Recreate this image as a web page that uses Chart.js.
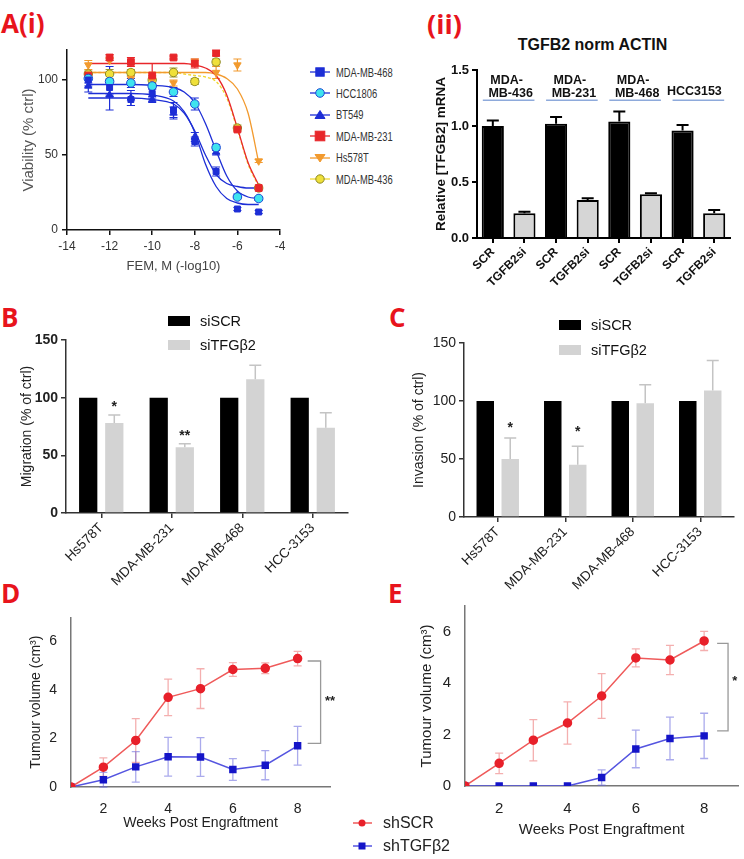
<!DOCTYPE html>
<html><head><meta charset="utf-8">
<script src="https://cdn.jsdelivr.net/npm/chart.js@4.4.0/dist/chart.umd.min.js"></script>
<style>
body{margin:0;width:744px;height:859px;position:relative;background:#fff;font-family:"Liberation Sans",Arial,sans-serif;overflow:hidden}
canvas{position:absolute}
.plab{position:absolute;color:#e8141c;font-weight:bold;font-family:"Open Sans","Liberation Sans",sans-serif;line-height:1}
.row{position:absolute;display:flex;align-items:center;white-space:nowrap}
.legA{font-size:13px;color:#333;display:inline-block;transform:scaleX(0.72);transform-origin:left center;margin-left:4px}
</style></head><body>

<div class="plab" style="left:1px;top:10px;font-size:26px">A(i)</div>
<div class="plab" style="left:427px;top:10px;font-size:27px">(ii)</div>
<div class="plab" style="left:1px;top:304px;font-size:26px">B</div>
<div class="plab" style="left:389px;top:304px;font-size:26px">C</div>
<div class="plab" style="left:1px;top:580px;font-size:26px">D</div>
<div class="plab" style="left:388px;top:580px;font-size:26px">E</div>
<div style="position:absolute;left:500px;top:36px;width:185px;text-align:center;font-weight:bold;font-size:16px;color:#111">TGFB2 norm ACTIN</div>

<canvas id="cA1" width="292" height="240" style="left:0;top:38px"></canvas>
<canvas id="cA2" width="324" height="258" style="left:420px;top:55px"></canvas>
<canvas id="cB" width="360" height="262" style="left:0;top:328px"></canvas>
<canvas id="cC" width="354" height="259" style="left:390px;top:331px"></canvas>
<canvas id="cD" width="345" height="232" style="left:0;top:603px"></canvas>
<canvas id="cE" width="351" height="249" style="left:393px;top:591px"></canvas>

<script>
// ---------- DATA ----------
// A(i) dose response
const doseX = [-13,-12,-11,-10,-9,-8,-7,-6,-5];
const cellLines = ['MDA-MB-468','HCC1806','BT549','MDA-MB-231','Hs578T','MDA-MB-436'];
const via468  = [100,95,87,91,80,59,39,14,12];
const err468  = [4,5,4,3,5,3,3,1,1];
const via1806 = [101,99,98,96,92,84,55,22,21];
const err1806 = [3,10,3,2,3,4,2,1,1];
const viaBT549= [96,90,88,87,78,62,52,23,21];
const errBT549= [4,10,5,2,4,3,2,1,1];
const via231  = [103,115,112,103,115,111,118,67,28];
const err231  = [2,2,3,8,1,3,2,1,1];
const viaHs578= [110,113,101,100,98,112,105,110,46];
const errHs578= [3,2,4,3,2,2,4,4,1];
const via436  = [104,104,105,100,105,99,112,68,28];
const err436  = [2,3,2,2,3,2,2,2,1];
// fitted curves
const fitX     = [-13,-12,-11,-10,-9,-8.5,-8,-7.5,-7,-6.5,-6,-5.5,-5];
const fit468   = [91,91,91,90,86,79,65,44,29,21,18,17,17];
const fit1806  = [97,97,97,96.5,95,92,85,71,53,36,26,22,21];
const fitBT549 = [88,88,88,87,84,78,66,50,37,31,29,28,28];
const fit231   = [111,111,111,111,111,111,110,108,103,90,68,45,30];
const fitHs578 = [105,105,105,105,105,105,105,105,104,101,94,78,45];
const fit436   = [105,105,105,105,105,104,103,102,99,88,67,44,29];

// A(ii) qPCR
const qGroups = ['MDA-\nMB-436','MDA-\nMB-231','MDA-\nMB-468','HCC3153'];
const qLabels = ['SCR','TGFB2si','SCR','TGFB2si','SCR','TGFB2si','SCR','TGFB2si'];
const qSCR    = [1.00,1.02,1.04,0.96];
const qSCRerr = [0.05,0.06,0.09,0.05];
const qSI     = [0.22,0.34,0.39,0.22];
const qSIerr  = [0.015,0.015,0.01,0.03];

// B / C migration & invasion
const mCells = ['Hs578T','MDA-MB-231','MDA-MB-468','HCC-3153'];
const migSCR = [100,100,100,100];
const migSI  = [78,57,116,74];
const migSIerr = [7,3,12,13];
const invSCR = [100,100,100,100];
const invSI  = [50,45,98,109];
const invSIerr = [18,16,16,26];

// D / E xenografts
const weeks = [1,2,3,4,5,6,7,8];
const dSCR    = [0,0.82,1.92,3.70,4.06,4.85,4.90,5.30];
const dSCRerr = [0,0.38,0.90,0.75,0.82,0.28,0.22,0.30];
const dTGF    = [0,0.30,0.83,1.25,1.24,0.72,0.90,1.70];
const dTGFerr = [0,0.30,0.63,0.80,0.80,0.45,0.60,0.80];
const eSCR    = [0,0.88,1.78,2.45,3.50,4.98,4.90,5.64];
const eSCRerr = [0,0.40,0.80,0.82,0.87,0.35,0.57,0.37];
const eTGF    = [0,0,0,0,0.33,1.44,1.85,1.95];
const eTGFerr = [0,0,0,0,0.30,0.73,0.83,0.88];
const xenoSeries = ['shSCR','shTGF\u03b22'];

// ---------- HELPERS ----------
const F = '"Liberation Sans", Arial, sans-serif';
function errDraw(chart, behind){
  const ctx = chart.ctx, ys = chart.scales.y;
  chart.data.datasets.forEach((ds,i)=>{
    if(!ds.err || (!!ds.errBehind)!==behind) return;
    const meta = chart.getDatasetMeta(i);
    if(meta.hidden) return;
    meta.data.forEach((el,j)=>{
      const e = ds.err[j]; if(!e) return;
      const raw = ds.data[j]; const v = (typeof raw==='object')? raw.y : raw;
      const x = el.x, yt = ys.getPixelForValue(v+e);
      const yb = ds.errBoth ? ys.getPixelForValue(v-e) : ys.getPixelForValue(v);
      const cw = ds.errCap||4;
      ctx.save(); ctx.strokeStyle = ds.errColor; ctx.lineWidth = ds.errWidth||1;
      ctx.beginPath(); ctx.moveTo(x,yb); ctx.lineTo(x,yt);
      ctx.moveTo(x-cw,yt); ctx.lineTo(x+cw,yt);
      if(ds.errBoth){ ctx.moveTo(x-cw,yb); ctx.lineTo(x+cw,yb); }
      ctx.stroke(); ctx.restore();
    });
  });
}
const errPlugin = {id:'errbars',
  beforeDatasetsDraw(c){errDraw(c,true);},
  afterDatasetsDraw(c){errDraw(c,false);} };
Chart.register(errPlugin);

function base(pad, scales, extra){
  return Object.assign({responsive:false, animation:false, devicePixelRatio:1,
    layout:{padding:pad},
    plugins:{legend:{display:false}, tooltip:{enabled:false}},
    scales}, extra||{});
}
const setTicks = vals => s => { s.ticks = vals.map(v=>({value:v})); };
const wFix = w => s => { s.width = w; };
const hFix = h => s => { s.height = h; };

// ---------- A(i) ----------
const blue='#1d2ed6', cyan='#3fe3ee', red='#e8262a', orange='#f29a2e', yellow='#efe03a', olive='#8f8a25';
const aiVals = [via468, via1806, viaBT549, via231, viaHs578, via436];
const aiErrs = [err468, err1806, errBT549, err231, errHs578, err436];
const aiFits = [fit468, fit1806, fitBT549, fit231, fitHs578, fit436];
const aiSty = [
  {line:blue, bd:blue, bg:blue, ps:'rect', r:4.2, rot:0},
  {line:blue, bd:'#1d4ad6', bg:cyan, ps:'circle', r:4.3, rot:0},
  {line:blue, bd:blue, bg:blue, ps:'triangle', r:4.3, rot:0},
  {line:red, bd:red, bg:red, ps:'rect', r:4.8, rot:0},
  {line:orange, bd:orange, bg:orange, ps:'triangle', r:4.3, rot:180},
  {line:'#f0d830', bd:olive, bg:yellow, ps:'circle', r:4.2, rot:0}
];
const aiDatasets = [];
aiVals.forEach((vals,k)=>{
  const s = aiSty[k];
  aiDatasets.push({type:'scatter', data: doseX.map((x,j)=>({x, y:vals[j]})),
    pointStyle:s.ps, pointRotation:s.rot, pointRadius:s.r, pointBackgroundColor:s.bg,
    pointBorderColor:s.bd, pointBorderWidth:1, showLine:false, order:0,
    err: aiErrs[k], errBoth:true, errColor:s.bd==olive?'#a09a30':s.line, errWidth:1.2, errCap:4, errBehind:true});
  aiDatasets.push({type:'scatter', data: fitX.map((x,j)=>({x, y:aiFits[k][j]})),
    showLine:true, pointRadius:0, borderColor:s.line, borderWidth:1.3, order:1,
    borderDash: k===5?[3,2]:[], cubicInterpolationMode:'monotone'});
});
const axA = {border:{color:'#111',width:1.5}, grid:{drawOnChartArea:false, color:'#111', tickLength:5, lineWidth:1.5}};
new Chart(document.getElementById('cA1'), {type:'scatter', data:{datasets:aiDatasets},
  options: base({top:12,right:12,left:0,bottom:0}, {
    x:{type:'linear', min:-14, max:-4, afterBuildTicks:setTicks([-14,-12,-10,-8,-6,-4]), afterFit:hFix(48),
       ...axA, ticks:{font:{family:F,size:12}, color:'#333', padding:4},
       title:{display:true, text:'FEM, M (-log10)', font:{family:F,size:13}, color:'#444', padding:{top:0,bottom:4}}},
    y:{min:0, max:120, afterBuildTicks:setTicks([0,50,100]), afterFit:wFix(67),
       ...axA, ticks:{font:{family:F,size:12}, color:'#333', padding:4},
       title:{display:true, text:'Viability (% ctrl)', font:{family:F,size:15}, color:'#555', padding:{top:20,bottom:0}}}
  })});

// A(i) legend (HTML)
function mkSvg(s){
  let m='';
  if(s.ps==='rect') m=`<rect x="${12-s.r}" y="${8-s.r}" width="${2*s.r}" height="${2*s.r}" fill="${s.bg}" stroke="${s.bd}"/>`;
  else if(s.ps==='circle') m=`<circle cx="12" cy="8" r="${s.r}" fill="${s.bg}" stroke="${s.bd}"/>`;
  else if(s.rot===180) m=`<polygon points="7,4.5 17,4.5 12,12" fill="${s.bg}" stroke="${s.bd}"/>`;
  else m=`<polygon points="7,11.5 17,11.5 12,3.5" fill="${s.bg}" stroke="${s.bd}"/>`;
  return `<svg width="24" height="16"><line x1="2" y1="8" x2="22" y2="8" stroke="${s.line}" stroke-width="1.3"/>${m}</svg>`;
}
cellLines.forEach((name,i)=>{
  const d=document.createElement('div'); d.className='row';
  d.style.left='308px'; d.style.top=(64+21.4*i)+'px'; d.style.height='16px';
  d.innerHTML = mkSvg(aiSty[i])+`<span class="legA">${name}</span>`;
  document.body.appendChild(d);
});

// ---------- A(ii) ----------
const qVals=[], qErr=[], qBg=[];
qSCR.forEach((v,i)=>{ qVals.push(v, qSI[i]); qErr.push(qSCRerr[i], qSIerr[i]); qBg.push('#000','#d6d6d6'); });
const qAnnot = {id:'qAnnot', afterDraw(c){
  const ctx=c.ctx, x=c.scales.x, y=c.scales.y;
  ctx.save(); ctx.font='bold 12.5px '+F; ctx.fillStyle='#111'; ctx.textAlign='center'; ctx.textBaseline='middle';
  qGroups.forEach((g,i)=>{
    const x0=x.getPixelForValue(2*i), x1=x.getPixelForValue(2*i+1), xc=(x0+x1)/2;
    const lines=g.split('\n');
    if(lines.length===2){ ctx.fillText(lines[0], xc-2, y.getPixelForValue(1.41)); ctx.fillText(lines[1], xc+2, y.getPixelForValue(1.29)); }
    else ctx.fillText(lines[0], xc-4, y.getPixelForValue(1.31));
    ctx.strokeStyle='#8eaadb'; ctx.lineWidth=1.5; ctx.beginPath();
    ctx.moveTo(x0-10, y.getPixelForValue(1.23)); ctx.lineTo(x1+10, y.getPixelForValue(1.23)); ctx.stroke();
  });
  ctx.restore();
}};
const axQ = {border:{color:'#000',width:2}, grid:{drawOnChartArea:false, color:'#000', tickLength:5, lineWidth:2, offset:false}};
new Chart(document.getElementById('cA2'), {type:'bar',
  data:{labels:qLabels, datasets:[{data:qVals, backgroundColor:qBg, borderColor:'#000', borderWidth:2,
    categoryPercentage:1, barPercentage:0.7, err:qErr, errColor:'#000', errWidth:2, errCap:6}]},
  options: base({top:15,right:14,left:0,bottom:0}, {
    x:{...axQ, afterFit:hFix(75), ticks:{font:{family:F,size:12,weight:'bold'}, color:'#111', minRotation:45, maxRotation:45, padding:2}},
    y:{min:0, max:1.5, afterBuildTicks:setTicks([0,0.5,1,1.5]), afterFit:wFix(57), ...axQ,
       ticks:{font:{family:F,size:13,weight:'bold'}, color:'#111', callback:v=>v.toFixed(1), padding:3},
       title:{display:true, text:'Relative [TFGB2] mRNA', font:{family:F,size:13.5,weight:'bold'}, color:'#111', padding:{top:13,bottom:0}}}
  }), plugins:[qAnnot]});

// ---------- B / C ----------
function starPlugin(stars){ return {id:'stars', afterDraw(c){
  const ctx=c.ctx, y=c.scales.y, meta=c.getDatasetMeta(1);
  ctx.save(); ctx.font='bold 14px '+F; ctx.fillStyle='#222'; ctx.textAlign='center'; ctx.textBaseline='middle';
  stars.forEach(s=>{ ctx.fillText(s.t, meta.data[s.i].x, y.getPixelForValue(s.v)); });
  ctx.restore(); }}; }
function barChart(id, scr, si, sierr, yTitle, tickBold, yW, xH, pad, titlePad, stars){
  const ax = {border:{color:'#333',width:1.5}, grid:{drawOnChartArea:false, color:'#333', tickLength:5, lineWidth:1.5, offset:false}};
  new Chart(document.getElementById(id), {type:'bar',
    data:{labels:mCells, datasets:[
      {label:'siSCR', data:scr, backgroundColor:'#000', categoryPercentage:0.74, barPercentage:0.7},
      {label:'siTFG\u03b22', data:si, backgroundColor:'#d3d3d3', categoryPercentage:0.74, barPercentage:0.7,
       err:sierr, errColor:'#c4c4c4', errWidth:1.5, errCap:6}]},
    options: base(pad, {
      x:{...ax, afterFit:hFix(xH), ticks:{font:{family:F,size:13.5}, color:'#222', minRotation:45, maxRotation:45, padding:2}},
      y:{min:0, max:150, afterBuildTicks:setTicks([0,50,100,150]), afterFit:wFix(yW), ...ax,
         ticks:{font:{family:F,size:14,weight:tickBold?'bold':'normal'}, color:'#222', padding:3},
         title:{display:true, text:yTitle, font:{family:F,size:14}, color:'#222', padding:{top:titlePad,bottom:0}}}
    }), plugins:[starPlugin(stars)]});
}
barChart('cB', migSCR, migSI, migSIerr, 'Migration (% of ctrl)', true, 66, 77, {top:12,right:12,left:0,bottom:0}, 19,
  [{i:0,t:'*',v:92},{i:1,t:'**',v:67}]);
barChart('cC', invSCR, invSI, invSIerr, 'Invasion (% of ctrl)', false, 74, 73, {top:12,right:10,left:0,bottom:0}, 21,
  [{i:0,t:'*',v:77},{i:1,t:'*',v:73}]);

// B/C legends (HTML)
function barLegend(left, top, gap){
  [['siSCR','#000'],['siTFG\u03b22','#d3d3d3']].forEach((it,i)=>{
    const d=document.createElement('div'); d.className='row';
    d.style.left=left+'px'; d.style.top=(top+gap*i)+'px'; d.style.height='18px';
    d.innerHTML=`<span style="display:inline-block;width:22px;height:10px;background:${it[1]}"></span><span style="margin-left:10px;font-size:14.5px;color:#111">${it[0]}</span>`;
    document.body.appendChild(d);
  });
}
barLegend(168, 312, 24);
barLegend(559, 316, 25);

// ---------- D / E ----------
function bracketPlugin(b){ return {id:'bracket', afterDraw(c){
  const ctx=c.ctx, x=c.scales.x, y=c.scales.y;
  const x0=x.getPixelForValue(b.x0), x1=x.getPixelForValue(b.x1), yt=y.getPixelForValue(b.top), yb=y.getPixelForValue(b.bot);
  ctx.save(); ctx.strokeStyle='#999'; ctx.lineWidth=1.3; ctx.beginPath();
  ctx.moveTo(x0,yt); ctx.lineTo(x1,yt); ctx.lineTo(x1,yb); ctx.lineTo(x0,yb); ctx.stroke();
  ctx.font='bold 13px '+F; ctx.fillStyle='#222'; ctx.textAlign='center'; ctx.textBaseline='middle';
  ctx.fillText(b.t, x.getPixelForValue(b.tx), y.getPixelForValue(b.ty));
  ctx.restore(); }}; }
function xenoChart(id, scr, scrErr, tgf, tgfErr, fs, yW, xH, pad, yTP, xTP, br){
  const ax = {border:{color:'#777',width:1.5}, grid:{display:false}};
  new Chart(document.getElementById(id), {type:'line',
    data:{datasets:[
      {label:xenoSeries[0], data:weeks.map((w,j)=>({x:w,y:scr[j]})), borderColor:'#ef5a5a', borderWidth:1.5,
       pointStyle:'circle', pointRadius:4, pointBackgroundColor:'#e8202a', pointBorderColor:'#e8202a',
       err:scrErr, errBoth:true, errColor:'rgba(235,110,110,0.55)', errWidth:1.3, errCap:4, errBehind:true},
      {label:xenoSeries[1], data:weeks.map((w,j)=>({x:w,y:tgf[j]})), borderColor:'#5555e0', borderWidth:1.5,
       pointStyle:'rect', pointRadius:4.2, pointBackgroundColor:'#1515c8', pointBorderColor:'#1515c8',
       err:tgfErr, errBoth:true, errColor:'rgba(100,100,220,0.55)', errWidth:1.3, errCap:4, errBehind:true}]},
    options: base(pad, {
      x:{type:'linear', min:1, max:9, afterBuildTicks:setTicks([2,4,6,8]), afterFit:hFix(xH), ...ax,
         ticks:{font:{family:F,size:fs}, color:'#222', padding:6},
         title:{display:true, text:'Weeks Post Engraftment', font:{family:F,size:fs}, color:'#222', padding:{top:0,bottom:xTP}}},
      y:{min:0, max:7, afterBuildTicks:setTicks([0,2,4,6]), afterFit:wFix(yW), ...ax,
         ticks:{font:{family:F,size:fs}, color:'#222', padding:6},
         title:{display:true, text:'Tumour volume (cm\u00b3)', font:{family:F,size:fs}, color:'#222', padding:{top:yTP,bottom:0}}}
    }), plugins:[bracketPlugin(br)]});
}
xenoChart('cD', dSCR, dSCRerr, dTGF, dTGFerr, 14, 71, 48, {top:12,right:15,left:0,bottom:0}, 28, 3,
  {x0:8.31, x1:8.71, top:5.2, bot:1.8, t:'**', tx:9.0, ty:3.55});
xenoChart('cE', eSCR, eSCRerr, eTGF, eTGFerr, 15, 72, 54, {top:12,right:4,left:0,bottom:0}, 25, 1,
  {x0:8.38, x1:8.70, top:5.55, bot:2.14, t:'*', tx:8.9, ty:4.05});

// D/E shared legend
[['#ef5a5a','#e8202a','circle'],['#5555e0','#1515c8','rect']].forEach((s,i)=>{
  const m = s[2]==='circle' ? `<circle cx="10" cy="8" r="3.5" fill="${s[1]}"/>` : `<rect x="6.5" y="4.5" width="7" height="7" fill="${s[1]}"/>`;
  const d=document.createElement('div'); d.className='row';
  d.style.left='352px'; d.style.top=(814+23*i)+'px'; d.style.height='18px';
  d.innerHTML=`<svg width="22" height="16"><line x1="1" y1="8" x2="20" y2="8" stroke="${s[0]}" stroke-width="1.5"/>${m}</svg><span style="margin-left:9px;font-size:16px;color:#222">${xenoSeries[i]}</span>`;
  document.body.appendChild(d);
});
</script>
</body></html>
